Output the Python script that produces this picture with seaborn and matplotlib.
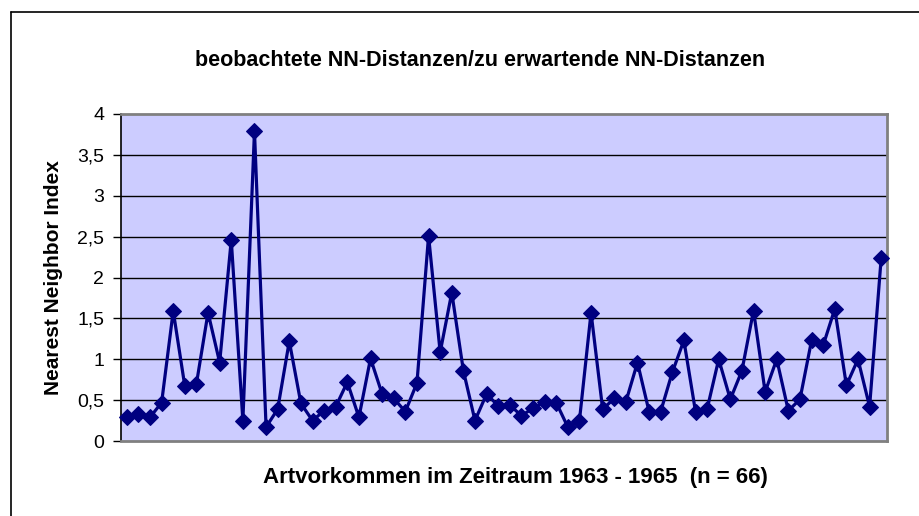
import numpy as np
import pandas as pd
import matplotlib
matplotlib.use("Agg")
import matplotlib.pyplot as plt
from matplotlib.lines import Line2D
import seaborn as sns

# Nearest Neighbor Index per occurrence
nn_index = [
    0.29, 0.33, 0.29, 0.47, 1.59, 0.67, 0.70, 1.57, 0.96, 2.46,
    0.25, 3.79, 0.17, 0.39, 1.22, 0.46, 0.25, 0.37, 0.42, 0.72,
    0.29, 1.01, 0.575, 0.52, 0.36, 0.71, 2.51, 1.085, 1.815, 0.86,
    0.25, 0.575, 0.43, 0.44, 0.31, 0.40, 0.48, 0.47, 0.17, 0.25,
    1.57, 0.39, 0.52, 0.48, 0.96, 0.36, 0.36, 0.84, 1.23, 0.36,
    0.39, 1.00, 0.51, 0.86, 1.595, 0.60, 1.00, 0.37, 0.51, 1.23,
    1.17, 1.615, 0.68, 1.00, 0.42, 2.24,
]
ytick_vals = [0, 0.5, 1, 1.5, 2, 2.5, 3, 3.5, 4]
ytick_labels = ["0", "0,5", "1", "1,5", "2", "2,5", "3", "3,5", "4"]

title = "beobachtete NN-Distanzen/zu erwartende NN-Distanzen"
xlabel = "Artvorkommen im Zeitraum 1963 - 1965  (n = 66)"
ylabel = "Nearest Neighbor Index"

df = pd.DataFrame({"i": np.arange(len(nn_index)), "nni": nn_index})

sns.set_style("white")
plt.rcParams["font.family"] = ["Liberation Sans", "DejaVu Sans"]
plt.rcParams["text.color"] = "black"
plt.rcParams["axes.labelcolor"] = "black"
plt.rcParams["ytick.color"] = "black"

fig = plt.figure(figsize=(9.19, 5.16), dpi=100)
ax = fig.add_axes([121 / 919, 1 - 441 / 516, (887 - 121) / 919, (441 - 114) / 516])
ax.set_facecolor("#CCCCFF")

for v in ytick_vals[1:-1]:
    ax.axhline(v, color="black", lw=1.0, zorder=1)

sns.lineplot(data=df, x="i", y="nni", ax=ax, color="#000080", lw=2.3,
             marker="D", markersize=8, markeredgecolor="#000080",
             markerfacecolor="#000080", zorder=3, clip_on=False)

ax.set_xlim(-0.5, len(nn_index) - 0.5)
ax.set_ylim(0, 4)
ax.set_xticks([])
ax.set_yticks(ytick_vals)
ax.set_yticklabels(ytick_labels, fontsize=14, color="black")
ax.tick_params(axis="y", direction="out", length=6, width=1, color="black", left=True, pad=6)

ax.set_xlabel(xlabel, fontsize=16, fontweight="bold", color="black")
ax.xaxis.set_label_coords((515 - 121) / 766, -(478 - 441) / 327, transform=ax.transAxes)
ax.xaxis.label.set_va("center")
ax.set_ylabel(ylabel, fontsize=15, fontweight="bold", color="black")
ax.yaxis.set_label_coords(-(121 - 53) / 766, 0.5, transform=ax.transAxes)
ax.yaxis.label.set_va("center")
fig.text(480 / 919, 1 - 60 / 516, title, fontsize=15.5, fontweight="bold",
         ha="center", va="center", color="black")

for s in ["top", "right", "bottom"]:
    ax.spines[s].set_color("#808080")
    ax.spines[s].set_linewidth(2)
ax.spines["left"].set_color("black")
ax.spines["left"].set_linewidth(1.2)

# chart frame (only left and top edges visible in the crop)
fig.add_artist(Line2D([11 / 919, 11 / 919], [0, 1 - 12 / 516], color="black", lw=1.2, transform=fig.transFigure))
fig.add_artist(Line2D([11 / 919, 1], [1 - 12 / 516, 1 - 12 / 516], color="black", lw=1.2, transform=fig.transFigure))

fig.savefig("out.png", dpi=100)
